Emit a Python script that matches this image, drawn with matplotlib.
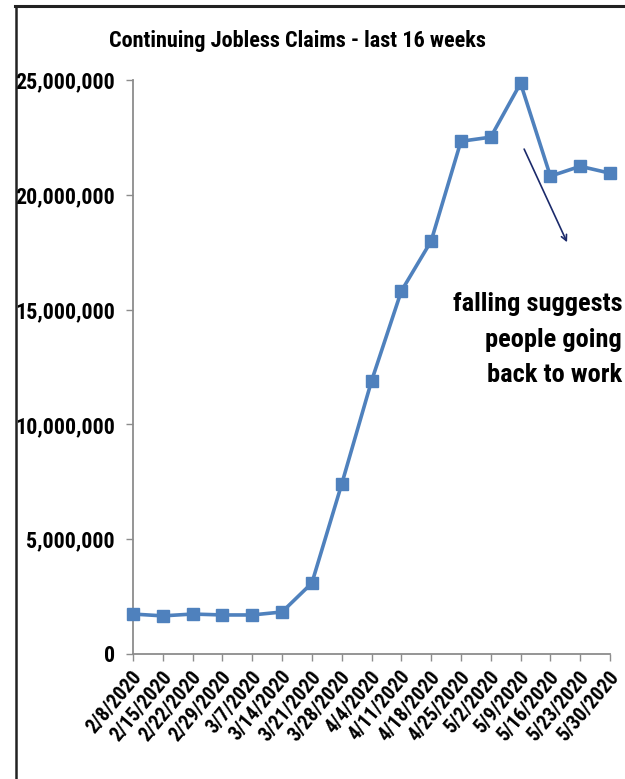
import matplotlib

matplotlib.use("Agg")
import matplotlib.pyplot as plt
from matplotlib.lines import Line2D
from matplotlib.ticker import FuncFormatter
from matplotlib.transforms import ScaledTranslation

plt.rcParams["font.family"] = ["Roboto Condensed", "Archivo Narrow", "DejaVu Sans"]
plt.rcParams["font.weight"] = "bold"

# weekly continuing claims, week ending
weeks = [
    "2/8/2020", "2/15/2020", "2/22/2020", "2/29/2020", "3/7/2020", "3/14/2020",
    "3/21/2020", "3/28/2020", "4/4/2020", "4/11/2020", "4/18/2020", "4/25/2020",
    "5/2/2020", "5/9/2020", "5/16/2020", "5/23/2020", "5/30/2020",
]
claims = [
    1740000, 1660000, 1740000, 1700000, 1700000, 1830000,
    3090000, 7400000, 11890000, 15810000, 17990000, 22340000,
    22520000, 24870000, 20820000, 21250000, 20950000,
]
y_ticks = [0, 5000000, 10000000, 15000000, 20000000, 25000000]

LINE_BLUE = "#4F81BD"
AXIS_GREY = "#8C8C8C"

fig = plt.figure(figsize=(6.25, 7.79), dpi=100)
ax = fig.add_axes([0.2128, 0.1605, 0.7632, 0.7365])

x = list(range(len(weeks)))
ax.plot(x, claims, color=LINE_BLUE, lw=2.6, marker="s", ms=8.8,
        markeredgecolor=LINE_BLUE, zorder=3, clip_on=False)

ax.set_xlim(0, len(weeks) - 1)
ax.set_ylim(y_ticks[0], y_ticks[-1])
ax.set_yticks(y_ticks)
ax.yaxis.set_major_formatter(FuncFormatter(lambda v, _: f"{int(v):,}"))
ax.set_xticks(x)
ax.set_xticklabels(weeks, rotation=50, ha="right", va="center", rotation_mode="anchor")

for side in ("top", "right"):
    ax.spines[side].set_visible(False)
for side in ("left", "bottom"):
    ax.spines[side].set_color(AXIS_GREY)
    ax.spines[side].set_linewidth(1.3)
ax.tick_params(axis="y", length=5, width=1.0, color=AXIS_GREY, labelsize=15.8, pad=8)
ax.tick_params(axis="x", length=5, width=1.0, color=AXIS_GREY, labelsize=14.5, pad=9)

# nudge the slanted date labels a little to the right of their ticks
shift = ScaledTranslation(4 / 72, 0, fig.dpi_scale_trans)
for lab in ax.get_xticklabels():
    lab.set_transform(lab.get_transform() + shift)

fig.text(0.476, 0.948, "Continuing Jobless Claims - last 16 weeks",
         ha="center", va="center", fontsize=16, fontweight="bold")

# note about the drop after the peak
ax.annotate("", xy=(14.56, 17940000), xytext=(13.12, 22000000),
            arrowprops=dict(arrowstyle="->", color="#1B2A6B", lw=1.2,
                            shrinkA=0, shrinkB=0))
ax.text(16.41, 13700000, "falling suggests\npeople going\nback to work",
        ha="right", va="center", multialignment="right", fontsize=19,
        fontweight="bold", linespacing=1.6, clip_on=False)

# outer chart frame (left and top edges)
fig.add_artist(Line2D([0.0256, 0.0256], [0.0, 0.9923], transform=fig.transFigure,
                      color="#222222", lw=1.8))
fig.add_artist(Line2D([0.024, 1.0], [0.9923, 0.9923], transform=fig.transFigure,
                      color="#222222", lw=2.2))

fig.savefig("out.png", dpi=100)
